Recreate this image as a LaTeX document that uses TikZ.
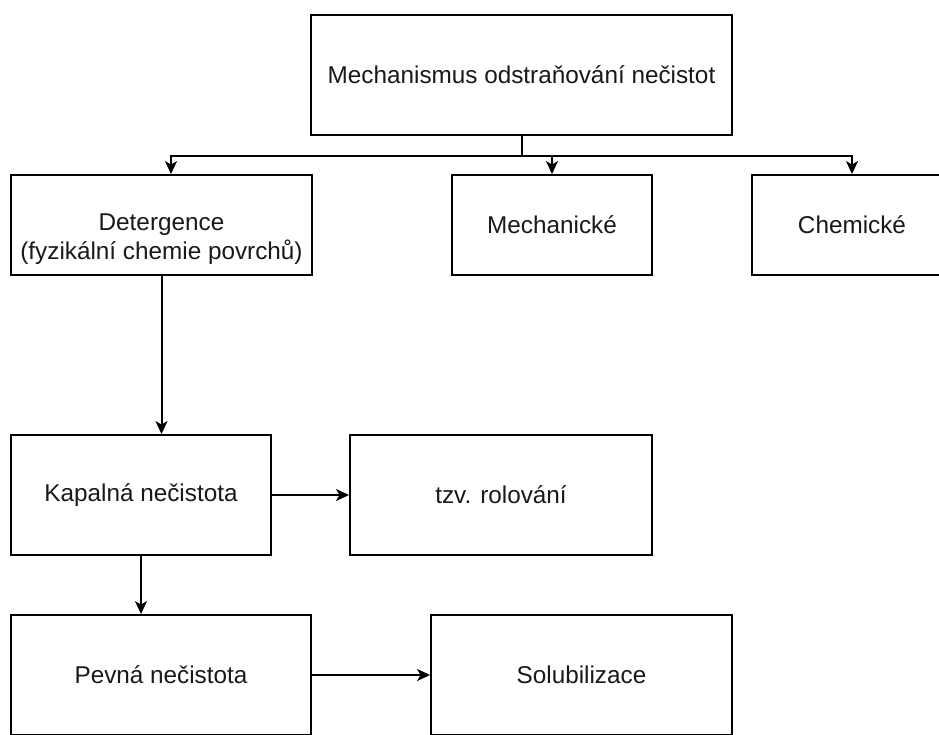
\documentclass[tikz,border=0pt]{standalone}
\usepackage{fontspec}
\setmainfont{Liberation Sans}
\usetikzlibrary{arrows.meta}
\begin{document}
\begin{tikzpicture}[x=1pt,y=-1pt,
  box/.style={draw=black, line width=1.9pt, inner sep=0pt, align=center,
    font=\fontsize{24.3}{28.5}\selectfont, text=black!90},
  txt/.style={inner sep=0pt, align=center, font=\fontsize{24.3}{28.5}\selectfont, text=black!90},
  conn/.style={draw=black, line width=2pt, -{Stealth[length=13pt,width=12pt,inset=3.5pt]}}]
\clip (0,0) rectangle (939,734);
\fill[white] (0,0) rectangle (939,734);
\node[box, minimum width=421pt, minimum height=120pt] (top) at (521.5,75) {Mechanismus odstraňování nečistot};
\node[box, minimum width=301pt, minimum height=100pt] (det) at (161.5,225) {};
\node[txt] (dettext) at (161.5,239) {Detergence\\(fyzikální chemie povrchů)};
\node[box, minimum width=200pt, minimum height=100pt] (mech) at (552,225) {Mechanické};
\node[box, minimum width=200pt, minimum height=100pt] (chem) at (852,225) {Chemické};
\node[box, minimum width=260pt, minimum height=120pt] (kap) at (141,495) {Kapalná nečistota};
\node[box, minimum width=302pt, minimum height=120pt] (rol) at (501,495) {tzv. rolování};
\node[box, minimum width=300pt, minimum height=120pt] (pev) at (161,675) {Pevná nečistota};
\node[box, minimum width=301pt, minimum height=120pt] (sol) at (581.5,675) {Solubilizace};
\coordinate (bus) at ([yshift=-20pt]top.south);
\draw[conn] (top.south) -- (bus) -| ([xshift=9.5pt]det.north);
\draw[conn] (top.south) -- (bus) -| (mech.north);
\draw[conn] (top.south) -- (bus) -| (chem.north);
\draw[conn] (det.south) -- (det.south |- kap.north);
\draw[conn] (kap.east) -- (rol.west);
\draw[conn] (kap.south) -- (pev.north -| kap.south);
\draw[conn] (pev.east) -- (sol.west);
\end{tikzpicture}
\end{document}
